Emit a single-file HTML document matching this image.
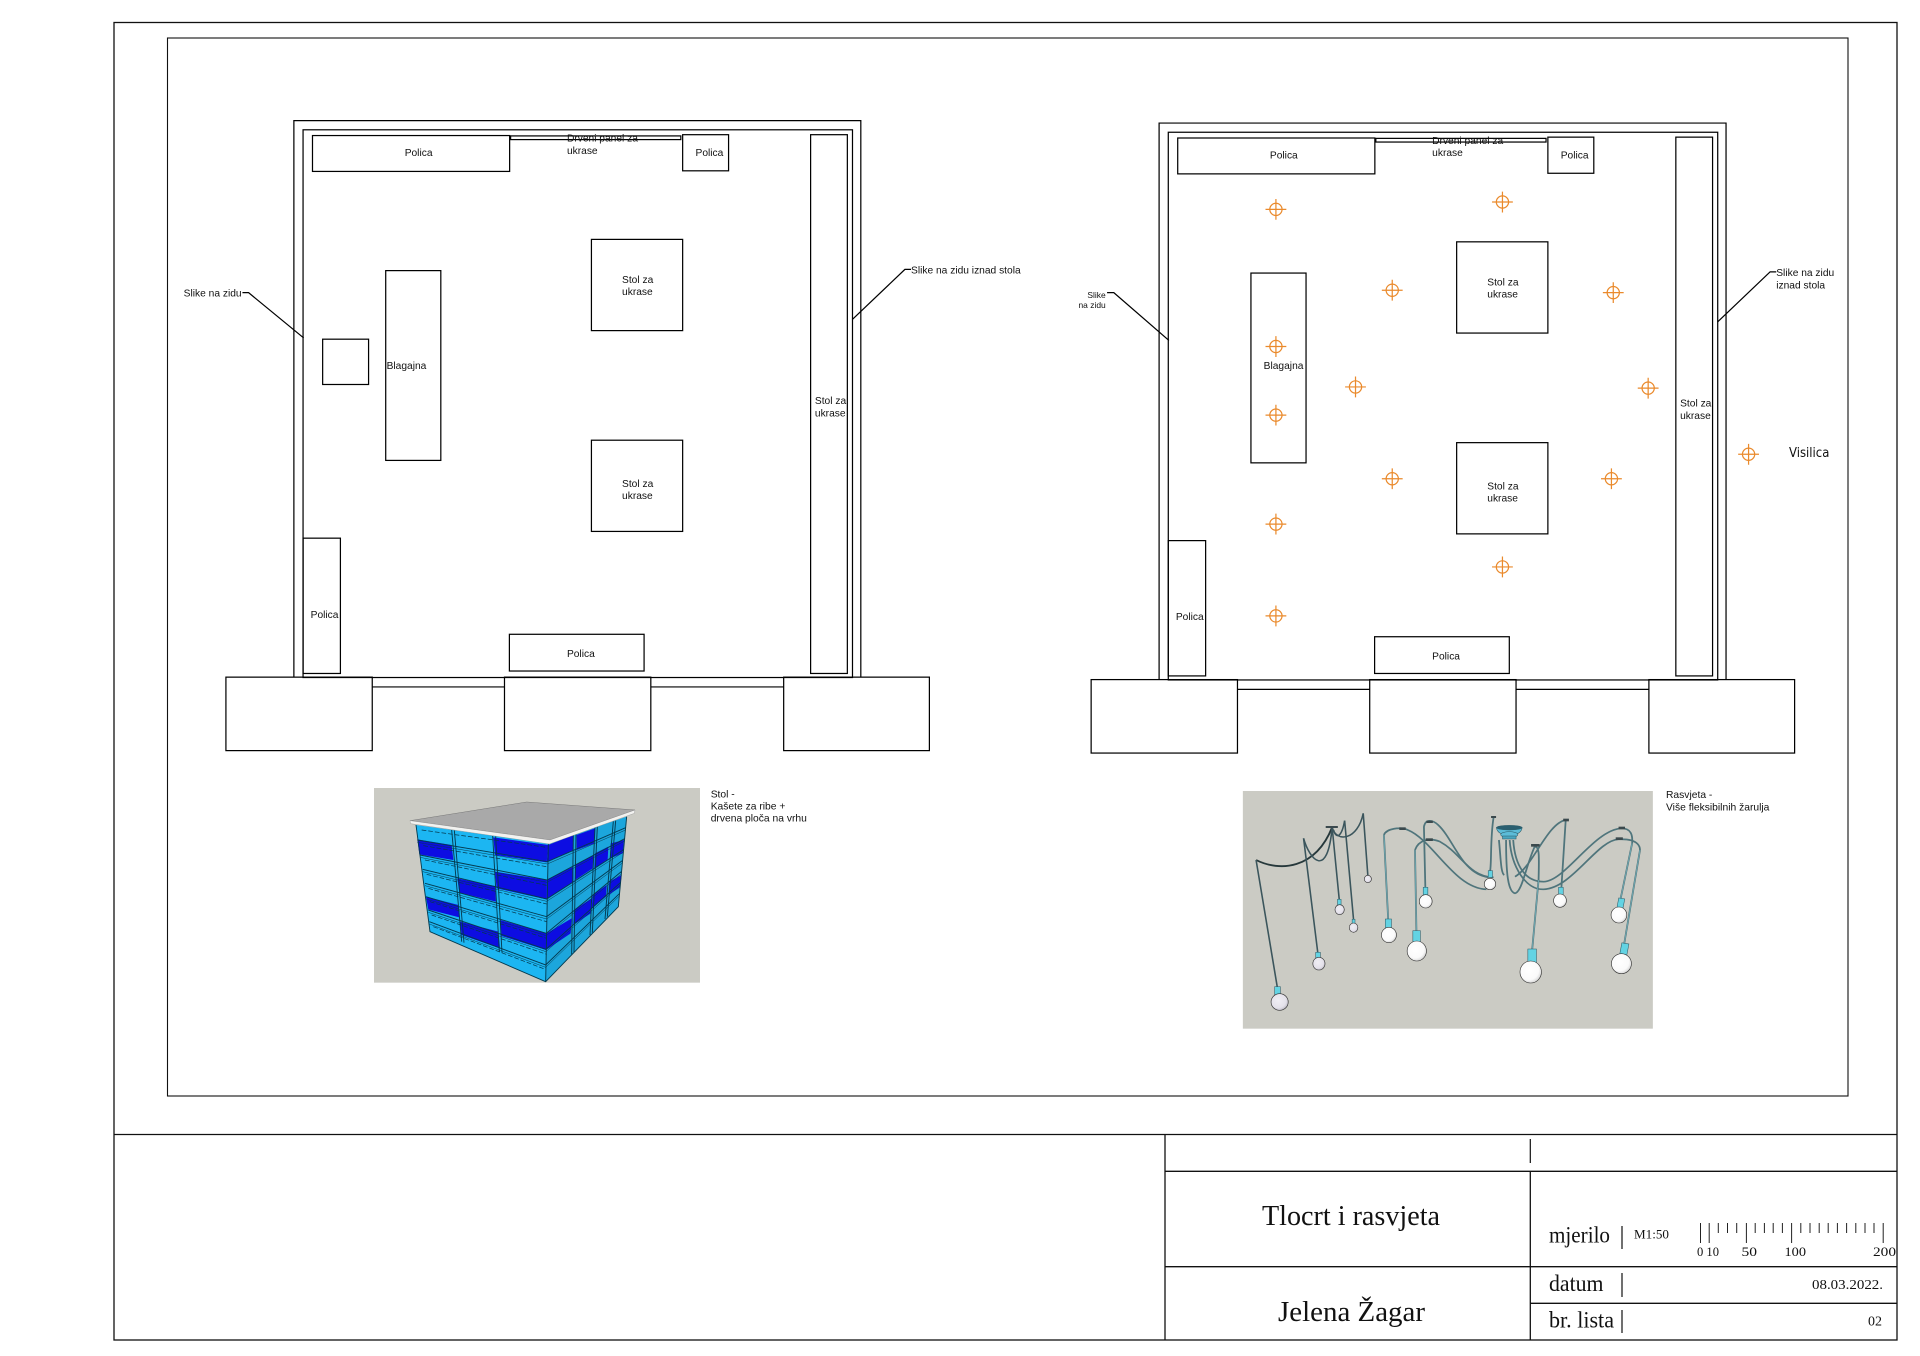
<!DOCTYPE html>
<html lang="hr"><head><meta charset="utf-8"><title>Tlocrt i rasvjeta</title>
<style>html,body{margin:0;padding:0;background:#fff}svg{display:block}</style></head>
<body>
<svg xmlns="http://www.w3.org/2000/svg" width="1920" height="1356" viewBox="0 0 1920 1356">
<defs>
<radialGradient id="bw" cx=".42" cy=".4" r=".65"><stop offset="0" stop-color="#fff"/><stop offset=".7" stop-color="#fafafa"/><stop offset="1" stop-color="#cfcfcf"/></radialGradient>
<radialGradient id="bp" cx=".42" cy=".4" r=".65"><stop offset="0" stop-color="#f0eef4"/><stop offset=".7" stop-color="#e4e1ea"/><stop offset="1" stop-color="#b8b5c0"/></radialGradient>
<filter id="soft" x="-5%" y="-5%" width="110%" height="110%"><feGaussianBlur stdDeviation=".9"/></filter>
</defs>
<rect width="1920" height="1356" fill="#fff"/>
<!-- frames -->
<g fill="none" stroke="#111" stroke-width="1.3">
<rect x="114" y="22.5" width="1783" height="1317.5"/>
<rect x="167.5" y="38" width="1680.5" height="1058" stroke-width="1.1"/>
<path d="M114 1134.5H1897M1165 1134.5V1340M1165 1171.3H1897M1530.3 1171.3V1340M1165 1266.7H1897M1530.3 1303.3H1897"/>
<path d="M1530.3 1139V1163M1622 1226V1249M1622 1273V1297M1622 1310V1333" stroke-width="1.2"/>
</g>
<!-- scale ticks -->
<path fill="none" stroke="#222" stroke-width="1" d="M1700.5 1223v20M1709.2 1223v20M1718.3 1223v10M1727.5 1223v10M1736.7 1223v10M1746.4 1223v20M1755.2 1223v10M1764.4 1223v10M1773.2 1223v10M1782.4 1223v10M1791.6 1223v20M1800.8 1223v10M1810 1223v10M1819.2 1223v10M1828.2 1223v10M1837.4 1223v10M1846.6 1223v10M1855.8 1223v10M1865 1223v10M1874 1223v10M1883.2 1223v20"/>
<g font-family="'Liberation Serif',serif" fill="#111">
<text x="1262" y="1225" font-size="29" textLength="178" lengthAdjust="spacingAndGlyphs">Tlocrt i rasvjeta</text>
<text x="1278" y="1321" font-size="29" textLength="147" lengthAdjust="spacingAndGlyphs">Jelena Žagar</text>
<text x="1549" y="1242.5" font-size="23" textLength="61" lengthAdjust="spacingAndGlyphs">mjerilo</text>
<text x="1549" y="1291" font-size="23" textLength="54.5" lengthAdjust="spacingAndGlyphs">datum</text>
<text x="1549" y="1327.5" font-size="23" textLength="65" lengthAdjust="spacingAndGlyphs">br. lista</text>
<text x="1634" y="1238.5" font-size="13" textLength="35" lengthAdjust="spacingAndGlyphs">M1:50</text>
<text x="1812" y="1289" font-size="13.5" textLength="71" lengthAdjust="spacingAndGlyphs">08.03.2022.</text>
<text x="1868" y="1325.5" font-size="13.5" textLength="14" lengthAdjust="spacingAndGlyphs">02</text>
<text x="1697" y="1256" font-size="12.5" textLength="22" lengthAdjust="spacingAndGlyphs">0 10</text>
<text x="1741.5" y="1256" font-size="12.5" textLength="15.5" lengthAdjust="spacingAndGlyphs">50</text>
<text x="1784.5" y="1256" font-size="12.5" textLength="21.5" lengthAdjust="spacingAndGlyphs">100</text>
<text x="1873" y="1256" font-size="12.5" textLength="23" lengthAdjust="spacingAndGlyphs">200</text>
</g>

<g transform="scale(1.22449)">
<!-- LEFT PLAN -->
<g fill="none" stroke="#000" stroke-width="1">
<path d="M240 553V98.5H703V553"/>
<rect x="247.5" y="106" width="448.7" height="447.3"/>
<path d="M304 561H412M531.5 561H640"/>
<rect x="184.5" y="553" width="119.5" height="60"/>
<rect x="412" y="553" width="119.5" height="60"/>
<rect x="640" y="553" width="119" height="60"/>
<rect x="255.2" y="110.7" width="161" height="29.3"/>
<rect x="417" y="111" width="139" height="3"/>
<rect x="557.5" y="110" width="37.5" height="29.5"/>
<rect x="662" y="110" width="30" height="440"/>
<rect x="483" y="195.5" width="74.5" height="74.5"/>
<rect x="483" y="359.5" width="74.5" height="74.5"/>
<rect x="315" y="221" width="45" height="155"/>
<rect x="263.5" y="277" width="37.5" height="37"/>
<rect x="247.5" y="439.5" width="30.5" height="110.5"/>
<rect x="416" y="518" width="110" height="30"/>
<path d="M198 239H203L248 276M696 261L739 220H744"/>
</g>
<g font-family="'Liberation Sans',sans-serif" font-size="8.35" fill="#111">
<text x="330.5" y="127.4">Polica</text>
<text x="463" y="115.7">Drveni panel za</text><text x="463" y="125.6">ukrase</text>
<text x="568" y="127.4">Polica</text>
<text x="508" y="231">Stol za</text><text x="508" y="241">ukrase</text>
<text x="508" y="397.6">Stol za</text><text x="508" y="407.5">ukrase</text>
<text x="665.5" y="330">Stol za</text><text x="665.5" y="340.2">ukrase</text>
<text x="315.7" y="301.3">Blagajna</text>
<text x="253.7" y="504.5">Polica</text>
<text x="463" y="536.4">Polica</text>
<text x="150" y="242">Slike na zidu</text>
<text x="744" y="223.5">Slike na zidu iznad stola</text>
</g>

<!-- RIGHT PLAN -->
<g transform="translate(706.6 2)">
<g fill="none" stroke="#000" stroke-width="1">
<path d="M240 553V98.5H703V553"/>
<rect x="247.5" y="106" width="448.7" height="447.3"/>
<path d="M304 561H412M531.5 561H640"/>
<rect x="184.5" y="553" width="119.5" height="60"/>
<rect x="412" y="553" width="119.5" height="60"/>
<rect x="640" y="553" width="119" height="60"/>
<rect x="255.2" y="110.7" width="161" height="29.3"/>
<rect x="417" y="111" width="139" height="3"/>
<rect x="557.5" y="110" width="37.5" height="29.5"/>
<rect x="662" y="110" width="30" height="440"/>
<rect x="483" y="195.5" width="74.5" height="74.5"/>
<rect x="483" y="359.5" width="74.5" height="74.5"/>
<rect x="315" y="221" width="45" height="155"/>
<rect x="247.5" y="439.5" width="30.5" height="110.5"/>
<rect x="416" y="518" width="110" height="30"/>
<path d="M197.5 237H203L248 276M696 261L739 220H744"/>
</g>
<g font-family="'Liberation Sans',sans-serif" font-size="8.35" fill="#111">
<text x="330.5" y="127.4">Polica</text>
<text x="463" y="115.7">Drveni panel za</text><text x="463" y="125.6">ukrase</text>
<text x="568" y="127.4">Polica</text>
<text x="508" y="231">Stol za</text><text x="508" y="241">ukrase</text>
<text x="508" y="397.6">Stol za</text><text x="508" y="407.5">ukrase</text>
<text x="665.5" y="330">Stol za</text><text x="665.5" y="340.2">ukrase</text>
<text x="325.4" y="299.5">Blagajna</text>
<text x="253.7" y="504.5">Polica</text>
<text x="463" y="536.4">Polica</text>
<text x="744" y="223.5">Slike na zidu</text><text x="744" y="233.5">iznad stola</text>
<text x="196.4" y="241.5" font-size="6.9" text-anchor="end">Slike</text>
<text x="196.4" y="249.5" font-size="6.9" text-anchor="end">na zidu</text>
</g>
</g>

<!-- crosshairs -->
<g fill="none" stroke="#ea8a2c" stroke-width="1">
<g transform="translate(1042 171)"><circle r="5"/><path d="M-8.5 0H8.5M0-8.5V8.5"/></g>
<g transform="translate(1227 165)"><circle r="5"/><path d="M-8.5 0H8.5M0-8.5V8.5"/></g>
<g transform="translate(1137 237)"><circle r="5"/><path d="M-8.5 0H8.5M0-8.5V8.5"/></g>
<g transform="translate(1317.5 239)"><circle r="5"/><path d="M-8.5 0H8.5M0-8.5V8.5"/></g>
<g transform="translate(1042 283)"><circle r="5"/><path d="M-8.5 0H8.5M0-8.5V8.5"/></g>
<g transform="translate(1042 339)"><circle r="5"/><path d="M-8.5 0H8.5M0-8.5V8.5"/></g>
<g transform="translate(1107 316)"><circle r="5"/><path d="M-8.5 0H8.5M0-8.5V8.5"/></g>
<g transform="translate(1346 317)"><circle r="5"/><path d="M-8.5 0H8.5M0-8.5V8.5"/></g>
<g transform="translate(1137 391)"><circle r="5"/><path d="M-8.5 0H8.5M0-8.5V8.5"/></g>
<g transform="translate(1316 391)"><circle r="5"/><path d="M-8.5 0H8.5M0-8.5V8.5"/></g>
<g transform="translate(1042 428)"><circle r="5"/><path d="M-8.5 0H8.5M0-8.5V8.5"/></g>
<g transform="translate(1227 463)"><circle r="5"/><path d="M-8.5 0H8.5M0-8.5V8.5"/></g>
<g transform="translate(1042 503)"><circle r="5"/><path d="M-8.5 0H8.5M0-8.5V8.5"/></g>
<g transform="translate(1428 371)"><circle r="5"/><path d="M-8.5 0H8.5M0-8.5V8.5"/></g>
</g>
<text x="1461" y="373.3" font-family="'DejaVu Sans',sans-serif" font-size="10.5" fill="#111" textLength="33" lengthAdjust="spacingAndGlyphs">Visilica</text>
</g>

<!-- CRATE IMAGE -->
<g transform="translate(360 780) scale(.33333)">
<rect x="42" y="24" width="978" height="584" fill="#cbcbc4"/>
<g filter="url(#soft)">
<polygon points="168,135 565,190 557,605 210,455" fill="#1cb6f2"/>
<polygon points="565,190 800,110 775,380 738,420 557,605" fill="#1ca6dc"/>
<g fill="#0a0ae2">
<polygon points="172,178 275,195 280,240 178,223"/>
<polygon points="400,172 565,195 560,247 405,225"/>
<polygon points="292,295 405,318 408,365 298,338"/>
<polygon points="405,275 560,300 560,358 410,325"/>
<polygon points="198,350 295,375 298,412 205,388"/>
<polygon points="300,425 415,455 420,505 305,465"/>
<polygon points="420,420 560,460 558,510 425,468"/>
<polygon points="565,195 640,165 640,210 560,247"/>
<polygon points="650,165 705,145 703,190 650,210"/>
<polygon points="560,300 640,260 640,305 560,358"/>
<polygon points="645,255 700,225 698,265 645,300"/>
<polygon points="705,220 745,200 743,238 703,265"/>
<polygon points="752,190 792,180 788,220 750,235"/>
<polygon points="560,460 635,415 632,460 558,510"/>
<polygon points="642,390 695,355 692,400 640,435"/>
<polygon points="698,345 740,315 738,350 695,385"/>
<polygon points="748,305 785,285 780,322 745,345"/>
</g>
<g fill="none" stroke="#063a50" stroke-width="2.8">
<path d="M168 135L210 455L557 605L775 380L800 110M565 190L557 605"/>
<path d="M172 180L562 245L797 143M180 225L561 300L794 176M188 268L560 357L791 209M195 310L560 410L787 242M198 350L559 460L784 275M205 390L558 508L781 308M208 425L557 555L778 341"/>
<path d="M275 150L305 485M283 151L312 488M398 168L418 515M407 169L426 518M640 165L635 523M648 162L642 516M705 142L690 465M712 140L697 458M760 124L735 417M767 122L742 410"/>
</g>
<g fill="none" stroke="#063a50" stroke-width="1.5">
<path d="M172 187L562 252L797 150M180 232L561 307L794 183M188 275L560 364L791 216M195 317L560 417L787 249M198 357L559 467L784 282M205 397L558 515L781 315M208 432L557 562L778 348"/>
</g>
<g fill="none" stroke="#063a50" stroke-width="2.2" stroke-dasharray="14 6">
<path d="M185 150L560 202M190 197L560 260M195 240L560 316M200 283L560 372M205 325L560 425M210 365L560 475M215 405L560 523M220 440L556 568"/>
</g>
<polygon points="150,122 500,66 825,90 570,180" fill="#a9a9a9" stroke="#777" stroke-width="1.5"/>
<polygon points="150,122 570,180 825,90 823,100 568,192 152,131" fill="#f2f2f0" stroke="#888" stroke-width="1"/>
</g>
</g>
<g font-family="'Liberation Sans',sans-serif" font-size="10.3" fill="#111">
<text x="710.7" y="797.3">Stol -</text>
<text x="710.7" y="809.3">Kašete za ribe +</text>
<text x="710.7" y="821.3">drvena ploča na vrhu</text>
<text x="1666" y="798">Rasvjeta -</text>
<text x="1666" y="810.7">Više fleksibilnih žarulja</text>
</g>

<!-- LAMP IMAGE -->
<g transform="translate(1240 780) scale(.35714 .33333)">
<rect x="8" y="33" width="1148" height="713" fill="#cbcbc4"/>
<g filter="url(#soft)">
<g fill="none" stroke="#3a555c" stroke-width="4.4">
<path d="M45 240C110 275 210 270 258 142" stroke="#27383b" stroke-width="5.4"/>
<path d="M45 240L105 625M178 175L218 520M258 142L278 360M293 122L318 420M345 100L358 287"/>
<path d="M178 175C195 240 245 300 258 142M258 142C270 190 330 180 345 100M293 122C285 170 270 180 262 150"/>
</g>
<g fill="none" stroke="#50747b" stroke-width="5">
<path d="M403 165L415 420M403 165C410 145 450 140 470 150C540 180 600 325 690 328"/>
<path d="M490 210L494 455M490 210C500 180 530 172 560 185C620 220 640 290 710 292"/>
<path d="M515 140L519 325M515 140C520 115 540 120 555 135C600 180 620 280 695 292"/>
<path d="M710 112C700 180 705 250 700 275M725 180C730 230 730 280 740 285M745 180C745 280 750 335 770 340C790 335 800 260 825 200M825 200C838 200 838 220 836 300L818 510"/>
<path d="M755 180C760 260 800 330 850 328C930 325 1000 180 1060 178C1120 175 1120 205 1120 210L1076 490"/>
<path d="M765 180C770 260 800 305 850 305C910 305 990 150 1068 145C1095 145 1100 165 1098 190L1066 355"/>
<path d="M770 290C820 260 860 130 912 120L900 322"/>
</g>
<g fill="none" stroke="#7fc2cc" stroke-width="1.6">
<path d="M403 165L415 420M490 210L494 455M1120 210L1076 490M1098 190L1066 355M836 300L818 510"/>
</g>
<g fill="#63d3e3" stroke="#2a5a66" stroke-width="1.5">
<path d="M718 143H790C788 158 775 165 754 165C733 165 720 158 718 143Z" fill="#5cbcd8"/>
<ellipse cx="754" cy="143" rx="36" ry="7" fill="#2c5f70"/>
<ellipse cx="754" cy="164" rx="24" ry="9" fill="#5cbcd8"/>
<rect x="735" y="168" width="38" height="9" fill="#4aa6c0"/>
<rect x="97" y="620" width="16" height="26"/>
<rect x="212" y="517" width="13" height="20"/>
<rect x="273" y="358" width="10" height="18"/>
<rect x="314" y="418" width="8" height="14"/>
<rect x="407" y="417" width="17" height="30"/>
<rect x="484" y="452" width="21" height="38"/>
<rect x="513" y="322" width="13" height="26"/>
<rect x="695" y="272" width="12" height="20"/>
<rect x="892" y="322" width="13" height="24"/>
<rect x="1058" y="355" width="17" height="30" transform="rotate(10 1066 369)"/>
<rect x="1066" y="490" width="20" height="38" transform="rotate(10 1076 508)"/>
<rect x="806" y="507" width="24" height="44"/>
</g>
<g stroke="#333" stroke-width="1.8" fill="url(#bw)">
<ellipse cx="111" cy="666" rx="24" ry="25" fill="url(#bp)"/>
<ellipse cx="221" cy="551" rx="17" ry="19" fill="url(#bp)"/>
<ellipse cx="279" cy="389" rx="13" ry="15" fill="url(#bp)"/>
<ellipse cx="318" cy="443" rx="12" ry="14" fill="url(#bp)"/>
<ellipse cx="358" cy="297" rx="10" ry="11" fill="url(#bp)"/>
<ellipse cx="417" cy="465" rx="21" ry="23"/>
<ellipse cx="495" cy="513" rx="27" ry="30"/>
<ellipse cx="520" cy="364" rx="18" ry="20"/>
<ellipse cx="700" cy="312" rx="16" ry="17"/>
<ellipse cx="896" cy="362" rx="18" ry="20"/>
<ellipse cx="1061" cy="405" rx="22" ry="24"/>
<ellipse cx="1068" cy="551" rx="28" ry="30"/>
<ellipse cx="814" cy="576" rx="30" ry="33"/>
</g>
<g fill="#3a4a4d">
<rect x="240" y="138" width="34" height="6"/>
<rect x="446" y="142" width="18" height="8"/>
<rect x="522" y="122" width="18" height="7"/>
<rect x="520" y="175" width="20" height="8"/>
<rect x="703" y="108" width="14" height="6"/>
<rect x="815" y="192" width="24" height="8"/>
<rect x="905" y="116" width="16" height="8"/>
<rect x="1060" y="140" width="18" height="8"/>
<rect x="1052" y="172" width="20" height="8"/>
</g>
</g>
</g>
</svg>
</body></html>
